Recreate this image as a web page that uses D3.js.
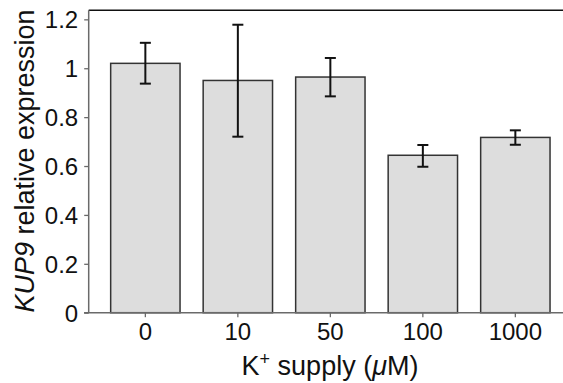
<!DOCTYPE html>
<html>
<head>
<meta charset="utf-8">
<script src="https://cdn.jsdelivr.net/npm/d3@7"></script>
<style>
html,body{margin:0;padding:0;background:#fff;}
svg{display:block;}
text{font-family:"Liberation Sans",Arial,sans-serif;fill:#111;}
</style>
</head>
<body>
<svg id="chart" width="563" height="383"></svg>
<script>
const categories = ["0", "10", "50", "100", "1000"];
const means = [1.02, 0.95, 0.964, 0.644, 0.717];
const errLow = [0.937, 0.72, 0.885, 0.597, 0.687];
const errHigh = [1.104, 1.178, 1.042, 0.686, 0.746];
const yTicks = [0, 0.2, 0.4, 0.6, 0.8, 1, 1.2];
const yTickLabels = ["0", "0.2", "0.4", "0.6", "0.8", "1", "1.2"];

const svg = d3.select("#chart");
const pLeft = 88.7, pRight = 572, pTop = 10.3, pBottom = 312.7;

const x = d3.scaleBand().domain(categories).range([pLeft, pRight])
  .paddingInner(0.25).paddingOuter(0.2375);
const y = d3.scaleLinear().domain([0, 1.237]).range([pBottom, pTop]);

const data = categories.map((c, i) => ({c, m: means[i], lo: errLow[i], hi: errHigh[i]}));

// bars
svg.append("g").selectAll("rect").data(data).join("rect")
  .attr("x", d => x(d.c))
  .attr("y", d => y(d.m))
  .attr("width", x.bandwidth())
  .attr("height", d => y(0) - y(d.m))
  .attr("fill", "#dddddd")
  .attr("stroke", "#333333")
  .attr("stroke-width", 1.5);

// error bars
const eb = svg.append("g").attr("stroke", "#111").attr("stroke-width", 2).attr("fill", "none");
data.forEach(d => {
  const cx = x(d.c) + x.bandwidth() / 2;
  eb.append("line").attr("x1", cx).attr("x2", cx).attr("y1", y(d.lo)).attr("y2", y(d.hi));
  eb.append("line").attr("x1", cx - 5.5).attr("x2", cx + 5.5).attr("y1", y(d.lo)).attr("y2", y(d.lo));
  eb.append("line").attr("x1", cx - 5.5).attr("x2", cx + 5.5).attr("y1", y(d.hi)).attr("y2", y(d.hi));
});

// spines
svg.append("line").attr("x1", pLeft).attr("x2", 563).attr("y1", pTop).attr("y2", pTop)
  .attr("stroke", "#111").attr("stroke-width", 1.5);
svg.append("line").attr("x1", pLeft).attr("x2", pLeft).attr("y1", pTop).attr("y2", pBottom)
  .attr("stroke", "#6a6a6a").attr("stroke-width", 1.5);
svg.append("line").attr("x1", 84).attr("x2", 563).attr("y1", pBottom).attr("y2", pBottom)
  .attr("stroke", "#6a6a6a").attr("stroke-width", 1.5);

// y axis
const yAxis = d3.axisLeft(y).tickValues(yTicks)
  .tickFormat((d, i) => yTickLabels[i]).tickSize(4.5).tickPadding(6);
const gy = svg.append("g").attr("transform", `translate(${pLeft},0)`).call(yAxis);
gy.select(".domain").remove();
gy.selectAll(".tick line").attr("stroke", "#6a6a6a").attr("stroke-width", 1.3);
gy.selectAll(".tick text").attr("font-size", 24).attr("font-family", "Liberation Sans, Arial, sans-serif").attr("fill", "#111").attr("dy", "0.36em");

// x axis
const xAxis = d3.axisBottom(x).tickSize(4.5).tickPadding(6);
const gx = svg.append("g").attr("transform", `translate(0,${pBottom})`).call(xAxis);
gx.select(".domain").remove();
gx.selectAll(".tick line").attr("stroke", "#6a6a6a").attr("stroke-width", 1.3);
gx.selectAll(".tick text").attr("font-size", 24).attr("font-family", "Liberation Sans, Arial, sans-serif").attr("fill", "#111").attr("dy", "0.71em");

// x label
const xl = svg.append("text").attr("x", 330).attr("y", 375)
  .attr("text-anchor", "middle").attr("font-size", 27);
xl.append("tspan").text("K");
xl.append("tspan").text("+").attr("font-size", 18).attr("dy", -10);
xl.append("tspan").text(" supply (").attr("dy", 10);
xl.append("tspan").text("μ").attr("font-style", "italic");
xl.append("tspan").text("M)");

// y label
const yl = svg.append("text")
  .attr("transform", `translate(34,161) rotate(-90)`)
  .attr("text-anchor", "middle").attr("font-size", 27);
yl.append("tspan").text("KUP9").attr("font-style", "italic");
yl.append("tspan").text(" relative expression");
</script>
</body>
</html>
